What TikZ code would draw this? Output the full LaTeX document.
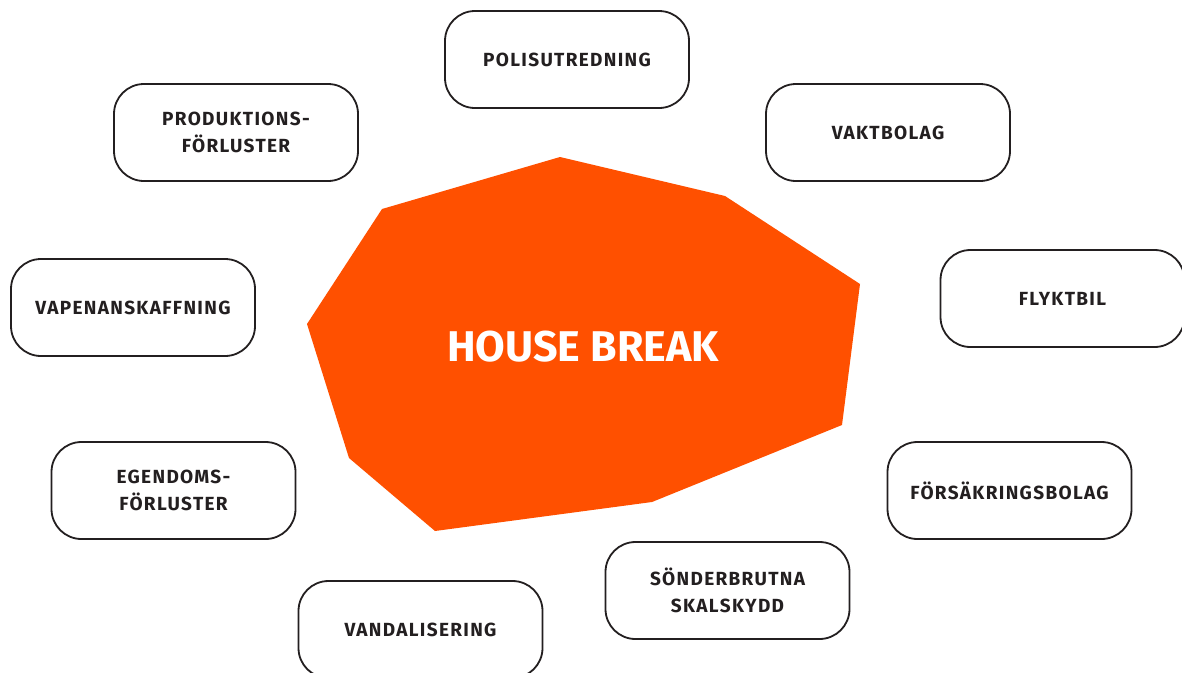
\documentclass[tikz,border=0pt]{standalone}
\usepackage{fontspec}
\setmainfont{Fira Sans}
\newfontfamily\boxfont[LetterSpace=7]{Fira Sans}
\definecolor{hbOrange}{HTML}{FF5000}
\definecolor{hbLine}{HTML}{231F20}
\tikzset{
  topic/.style={draw=hbLine, line width=1.8pt, rounded corners=30pt,
    minimum width=244pt, minimum height=97pt, align=center, inner sep=0pt,
    text=hbLine, font=\boxfont\bfseries\fontsize{19}{27}\selectfont},
  title/.style={text=white, inner sep=0pt, font=\bfseries\fontsize{43}{48}\selectfont}
}
\begin{document}
\begin{tikzpicture}[x=1pt,y=-1pt]
\clip (0,0) rectangle (1182,672);
\fill[white] (0,0) rectangle (1182,672);
\fill[hbOrange] (560,157) coordinate (p1) -- (725,196) -- (860,284) -- (842,425) -- (652,502) -- (435,531) -- (349,458) -- (307,324) -- (382,209) -- cycle;
\node[title] (hb) at (583,347) {HOUSE BREAK};
\node[topic] (polis) at (567,59.5) {POLISUTREDNING};
\node[topic] (prod) at (236,132.5) {PRODUKTIONS-\\FÖRLUSTER};
\node[topic] (vakt) at (888,132.5) {VAKTBOLAG};
\node[topic] (flykt) at (1062.5,298.5) {FLYKTBIL};
\node[topic] (vapen) at (133,307.5) {VAPENANSKAFFNING};
\node[topic] (fors) at (1009.5,490.5) {FÖRSÄKRINGSBOLAG};
\node[topic] (egen) at (173.5,490.5) {EGENDOMS-\\FÖRLUSTER};
\node[topic] (sond) at (727.5,590.5) {SÖNDERBRUTNA\\SKALSKYDD};
\node[topic] (vand) at (420.5,629.5) {VANDALISERING};
\end{tikzpicture}
\end{document}
